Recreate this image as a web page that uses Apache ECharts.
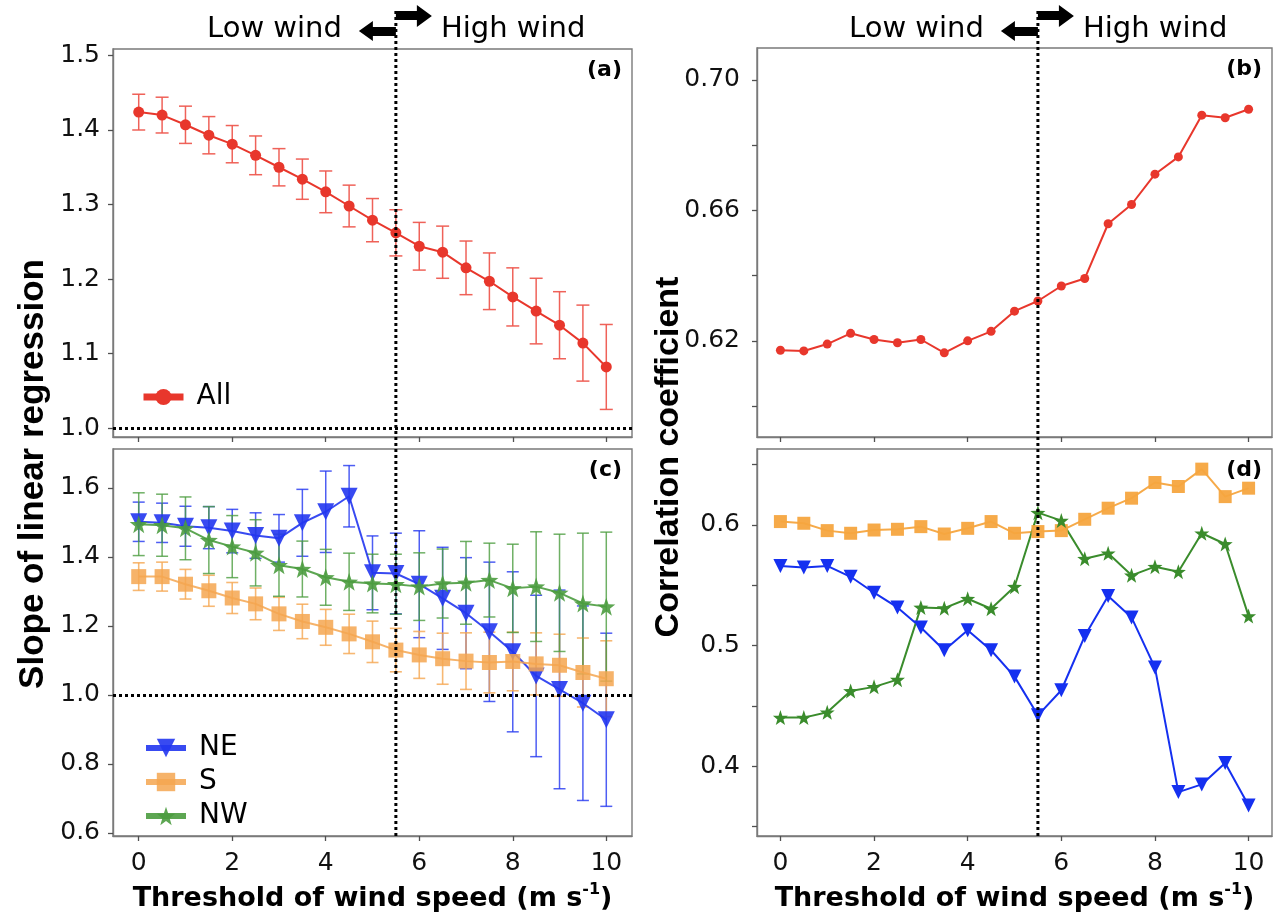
<!DOCTYPE html>
<html>
<head>
<meta charset="utf-8">
<script src="https://cdn.jsdelivr.net/npm/echarts@6/dist/echarts.min.js"></script>
<style>
  html, body { margin: 0; padding: 0; background: #fff; }
  #chart { width: 1284px; height: 921px; }
</style>
</head>
<body>
<div id="chart"></div>
<script>
// Wind-speed thresholds (m/s)
const windSpeed = [0, 0.5, 1, 1.5, 2, 2.5, 3, 3.5, 4, 4.5, 5, 5.5, 6, 6.5, 7, 7.5, 8, 8.5, 9, 9.5, 10];

// (a) slope of linear regression, all directions, with standard error
const slopeAll    = [1.424, 1.420, 1.407, 1.393, 1.381, 1.366, 1.350, 1.334, 1.317, 1.298, 1.279, 1.262, 1.244, 1.236, 1.215, 1.197, 1.176, 1.157, 1.138, 1.114, 1.082];
const slopeAllErr = [0.024, 0.024, 0.025, 0.025, 0.025, 0.026, 0.025, 0.027, 0.028, 0.028, 0.029, 0.031, 0.032, 0.035, 0.036, 0.038, 0.039, 0.044, 0.045, 0.051, 0.057];

// (b) correlation coefficient, all directions
const corrAll = [0.6171, 0.6169, 0.6190, 0.6223, 0.6204, 0.6194, 0.6204, 0.6163, 0.6200, 0.6229, 0.6291, 0.6322, 0.6368, 0.6391, 0.6559, 0.6618, 0.6711, 0.6764, 0.6892, 0.6884, 0.6910];

// (c) slope by wind direction, with standard error
const slopeNE    = [1.502, 1.499, 1.489, 1.485, 1.475, 1.462, 1.454, 1.499, 1.531, 1.576, 1.354, 1.352, 1.321, 1.280, 1.237, 1.183, 1.125, 1.055, 1.016, 0.976, 0.928];
const slopeNEErr = [0.057, 0.057, 0.058, 0.061, 0.063, 0.066, 0.069, 0.097, 0.118, 0.089, 0.107, 0.117, 0.155, 0.148, 0.161, 0.202, 0.232, 0.234, 0.288, 0.282, 0.251];
const slopeS     = [1.343, 1.343, 1.321, 1.302, 1.281, 1.264, 1.235, 1.213, 1.196, 1.177, 1.154, 1.130, 1.116, 1.105, 1.098, 1.094, 1.097, 1.090, 1.086, 1.065, 1.047];
const slopeSErr  = [0.040, 0.042, 0.043, 0.045, 0.045, 0.046, 0.048, 0.050, 0.052, 0.057, 0.060, 0.063, 0.068, 0.074, 0.082, 0.088, 0.085, 0.090, 0.090, 0.100, 0.110];
const slopeNW    = [1.495, 1.492, 1.483, 1.449, 1.430, 1.412, 1.376, 1.365, 1.341, 1.328, 1.323, 1.321, 1.314, 1.323, 1.325, 1.333, 1.309, 1.314, 1.296, 1.265, 1.256];
const slopeNWErr = [0.091, 0.090, 0.091, 0.097, 0.090, 0.096, 0.090, 0.081, 0.081, 0.083, 0.085, 0.087, 0.098, 0.100, 0.120, 0.107, 0.128, 0.159, 0.170, 0.204, 0.216];

// (d) correlation coefficient by wind direction
const corrNE = [0.5660, 0.5648, 0.5660, 0.5570, 0.5438, 0.5316, 0.5150, 0.4961, 0.5127, 0.4961, 0.4742, 0.4421, 0.4629, 0.5078, 0.5410, 0.5233, 0.4817, 0.3784, 0.3848, 0.4025, 0.3673];
const corrS  = [0.6028, 0.6014, 0.5953, 0.5931, 0.5958, 0.5964, 0.5986, 0.5925, 0.5972, 0.6028, 0.5931, 0.5945, 0.5953, 0.6047, 0.6139, 0.6222, 0.6352, 0.6319, 0.6463, 0.6235, 0.6305];
const corrNW = [0.4402, 0.4402, 0.4446, 0.4623, 0.4657, 0.4717, 0.5316, 0.5310, 0.5388, 0.5305, 0.5488, 0.6102, 0.6036, 0.5720, 0.5765, 0.5582, 0.5654, 0.5612, 0.5931, 0.5842, 0.5244];

// Tick positions and labels
const xTicks = [0, 2, 4, 6, 8, 10];
const slopeAllTicks = [1.0, 1.1, 1.2, 1.3, 1.4, 1.5];
const corrAllTicks = [0.60, 0.62, 0.64, 0.66, 0.68, 0.70];
const corrAllLabels = [0.62, 0.66, 0.70];
const slopeDirTicks = [0.6, 0.8, 1.0, 1.2, 1.4, 1.6];
const corrDirTicks = [0.35, 0.40, 0.45, 0.50, 0.55, 0.60, 0.65];
const corrDirLabels = [0.4, 0.5, 0.6];

// Reference lines
const thresholdSpeed = 5.5;
const unitySlope = 1.0;

// ---- layout and styling ----
const GRIDS = [
  { left: 113, top: 49, width: 519, height: 388 },  // (a)
  { left: 757, top: 48, width: 515, height: 389 },  // (b)
  { left: 113, top: 449, width: 519, height: 387 }, // (c)
  { left: 757, top: 449, width: 515, height: 387 }  // (d)
];
const FRAME = '#7a7a7a';
const TICK = '#505050';
const TICK_FONT = '"DejaVu Sans", Verdana, sans-serif';
const RED = '#e8372c';
const C_NE = '#2236f0', C_S = '#f5a650', C_NW = '#4b9c3f';
const D_NE = '#1530f0', D_S = '#f5a53f', D_NW = '#3a8c2c';
const STAR = 'path://M0,-10 L2.35,-3.24 L9.51,-3.09 L3.8,1.24 L5.88,8.09 L0,4 L-5.88,8.09 L-3.8,1.24 L-9.51,-3.09 L-2.35,-3.24 Z';

const dottedBlack = { color: '#000', width: 3, type: [3, 3] };

function xAxisFor(gi, min, max, withLabels) {
  const ax = {
    type: 'value', gridIndex: gi, min: min, max: max,
    axisLine: { show: true, onZero: false, lineStyle: { color: FRAME, width: 1.4 } },
    axisTick: { show: true, customValues: xTicks, length: 5, lineStyle: { color: TICK, width: 1.3 } },
    axisLabel: { show: withLabels, customValues: xTicks, margin: 15, fontSize: 25, fontFamily: TICK_FONT, color: '#111' },
    splitLine: { show: false }
  };
  if (withLabels) {
    ax.name = '{t|Threshold of wind speed (m s}{s|-1}{t|)}';
    ax.nameLocation = 'middle';
    ax.nameGap = 46;
    ax.nameMoveOverlap = false;
    ax.nameTextStyle = {
      rich: {
        t: { fontSize: 27, fontWeight: 'bold', fontFamily: TICK_FONT, color: '#000', lineHeight: 34 },
        s: { fontSize: 16, fontWeight: 'bold', fontFamily: TICK_FONT, color: '#000', lineHeight: 22, verticalAlign: 'top' }
      }
    };
  }
  return ax;
}

function yAxisFor(gi, min, max, ticks, labels, digits, margin) {
  return {
    type: 'value', gridIndex: gi, min: min, max: max,
    axisLine: { show: true, onZero: false, lineStyle: { color: FRAME, width: 1.4 } },
    axisTick: { show: true, customValues: ticks, length: 5, lineStyle: { color: TICK, width: 1.3 } },
    axisLabel: { customValues: labels, margin: margin, fontSize: 25, fontFamily: TICK_FONT, color: '#111',
                 formatter: v => Number(v).toFixed(digits) },
    splitLine: { show: false }
  };
}

function errorBars(name, idx, values, errs, color, cap, width, opacity) {
  return {
    type: 'custom', name: name, xAxisIndex: idx, yAxisIndex: idx, silent: true,
    data: windSpeed.map((w, i) => [w, values[i], errs[i]]),
    encode: { x: 0, y: 1 },
    renderItem: function (params, api) {
      const x = api.value(0), y = api.value(1), e = api.value(2);
      const hi = api.coord([x, y + e]);
      const lo = api.coord([x, y - e]);
      const style = { stroke: color, lineWidth: width, opacity: opacity, fill: null };
      return {
        type: 'group',
        children: [
          { type: 'line', shape: { x1: hi[0], y1: hi[1], x2: lo[0], y2: lo[1] }, style: style },
          { type: 'line', shape: { x1: hi[0] - cap, y1: hi[1], x2: hi[0] + cap, y2: hi[1] }, style: style },
          { type: 'line', shape: { x1: lo[0] - cap, y1: lo[1], x2: lo[0] + cap, y2: lo[1] }, style: style }
        ]
      };
    }
  };
}

function lineSeries(name, idx, values, color, symbol, size, rotate, lw, opacity) {
  return {
    type: 'line', name: name, xAxisIndex: idx, yAxisIndex: idx,
    data: windSpeed.map((w, i) => [w, values[i]]),
    symbol: symbol, symbolSize: size, symbolRotate: rotate, showSymbol: true,
    lineStyle: { color: color, width: lw, opacity: opacity },
    itemStyle: { color: color, opacity: opacity, borderWidth: 0 },
    emphasis: { disabled: true }, animation: false
  };
}

function unityLine() {
  return {
    silent: true, symbol: 'none', label: { show: false },
    lineStyle: dottedBlack, data: [{ yAxis: unitySlope }]
  };
}

const seriesA = lineSeries('All', 0, slopeAll, RED, 'circle', 11, 0, 2, 1);
seriesA.markLine = unityLine();
const seriesNE = lineSeries('NE', 2, slopeNE, C_NE, 'triangle', 17, 180, 2, 0.9);
seriesNE.markLine = unityLine();

const legendText = { fontSize: 28, fontFamily: TICK_FONT, color: '#000', padding: [0, 0, 0, 8] };

const option = {
  animation: false,
  backgroundColor: '#ffffff',
  grid: GRIDS.map(g => Object.assign({
    show: true, borderColor: FRAME, borderWidth: 1.4, backgroundColor: 'transparent',
    containLabel: false, outerBoundsMode: 'none'
  }, g)),
  xAxis: [
    xAxisFor(0, -0.55, 10.55, false),
    xAxisFor(1, -0.5, 10.5, false),
    xAxisFor(2, -0.55, 10.55, true),
    xAxisFor(3, -0.5, 10.5, true)
  ],
  yAxis: [
    yAxisFor(0, 0.988, 1.5087, slopeAllTicks, slopeAllTicks, 1, 13),
    yAxisFor(1, 0.5905, 0.7098, corrAllTicks, corrAllLabels, 2, 17),
    yAxisFor(2, 0.591, 1.713, slopeDirTicks, slopeDirTicks, 1, 13),
    yAxisFor(3, 0.342, 0.663, corrDirTicks, corrDirLabels, 1, 17)
  ],
  legend: [
    {
      data: ['All'], left: 135, top: 378, orient: 'vertical',
      itemWidth: 40, itemHeight: 20, selectedMode: false,
      lineStyle: { width: 7 },
      textStyle: legendText
    },
    {
      data: ['NE', 'S', 'NW'], left: 138, top: 729, orient: 'vertical',
      itemWidth: 40, itemHeight: 23, itemGap: 6, selectedMode: false,
      lineStyle: { width: 6 },
      textStyle: legendText
    }
  ],
  series: [
    // (a)
    errorBars('All err', 0, slopeAll, slopeAllErr, '#ee5a50', 6.5, 1.5, 0.95),
    seriesA,
    // (b)
    lineSeries('All', 1, corrAll, RED, 'circle', 9, 0, 2, 1),
    // (c)
    errorBars('NE err', 2, slopeNE, slopeNEErr, C_NE, 6, 1.5, 0.8),
    seriesNE,
    errorBars('S err', 2, slopeS, slopeSErr, C_S, 6, 1.6, 0.8),
    lineSeries('S', 2, slopeS, C_S, 'rect', 15, 0, 2, 0.85),
    errorBars('NW err', 2, slopeNW, slopeNWErr, C_NW, 6, 1.5, 0.8),
    lineSeries('NW', 2, slopeNW, C_NW, STAR, 18, 0, 2, 0.9),
    // (d)
    lineSeries('NE', 3, corrNE, D_NE, 'triangle', 14, 180, 2, 1),
    lineSeries('S', 3, corrS, D_S, 'rect', 13, 0, 2, 0.95),
    lineSeries('NW', 3, corrNW, D_NW, STAR, 15, 0, 2, 1)
  ]
};

const chart = echarts.init(document.getElementById('chart'), null, { renderer: 'canvas' });
chart.setOption(option);

// Annotations: threshold lines, wind-regime arrows, panel tags and axis titles
const xLeft = chart.convertToPixel({ xAxisIndex: 0 }, thresholdSpeed);
const xRight = chart.convertToPixel({ xAxisIndex: 1 }, thresholdSpeed);
const lineTop = 11;
const lineBottom = GRIDS[2].top + GRIDS[2].height;

function windArrows(X) {
  const ink = { fill: '#000' };
  const label = (text, x, align) => ({
    type: 'text', x: x, y: 29, silent: true,
    style: { text: text, fill: '#000', font: '29px ' + TICK_FONT,
             textAlign: align, textVerticalAlign: 'middle', align: align, verticalAlign: 'middle' }
  });
  return [
    { type: 'polygon', silent: true, style: ink,
      shape: { points: [[X - 37, 31], [X - 23, 21], [X - 23, 27], [X, 27], [X, 36], [X - 23, 36], [X - 23, 41]] } },
    { type: 'polygon', silent: true, style: ink,
      shape: { points: [[X, 11], [X + 21, 11], [X + 21, 5], [X + 36, 16], [X + 21, 27], [X + 21, 20], [X, 20]] } },
    label('Low wind', X - 54, 'right'),
    label('High wind', X + 45, 'left'),
    { type: 'line', silent: true, z: 100,
      shape: { x1: X, y1: lineTop, x2: X, y2: lineBottom },
      style: { stroke: '#000', lineWidth: 3, lineDash: [3, 3] } }
  ];
}

function panelTag(text, g) {
  return {
    type: 'text', x: g.left + g.width - 10, y: g.top + 21, silent: true,
    style: { text: text, fill: '#000', font: 'bold 22px ' + TICK_FONT,
             textAlign: 'right', textVerticalAlign: 'middle', align: 'right', verticalAlign: 'middle' }
  };
}

function yTitle(text, x, y, size) {
  return {
    type: 'text', x: x, y: y, rotation: Math.PI / 2, silent: true,
    style: { text: text, fill: '#000', font: 'bold ' + size + 'px "Liberation Sans", Arial, sans-serif',
             textAlign: 'center', textVerticalAlign: 'middle', align: 'center', verticalAlign: 'middle' }
  };
}

chart.setOption({
  graphic: [].concat(
    windArrows(xLeft),
    windArrows(xRight),
    [
      panelTag('(a)', GRIDS[0]),
      panelTag('(b)', GRIDS[1]),
      panelTag('(c)', GRIDS[2]),
      panelTag('(d)', GRIDS[3]),
      yTitle('Slope of linear regression', 33, 474, 35),
      yTitle('Correlation coefficient', 669, 457, 34)
    ]
  )
});
</script>
</body>
</html>
